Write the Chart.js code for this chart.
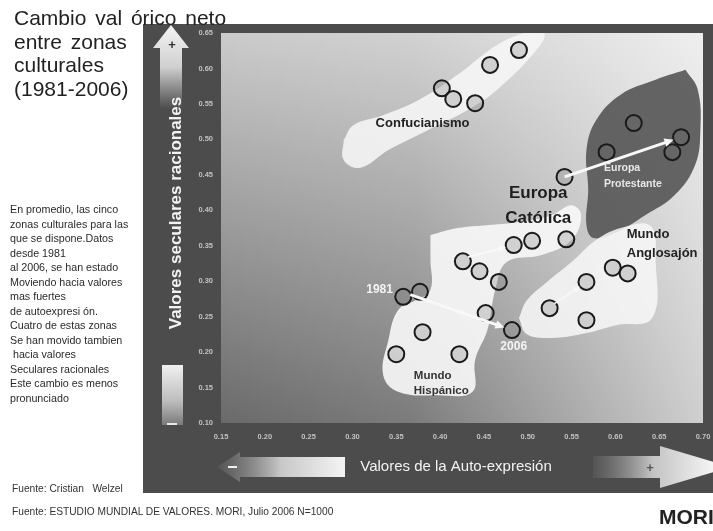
<!DOCTYPE html>
<html lang="es">
<head>
<meta charset="UTF-8">
<title>Cambio valórico neto</title>
<script src="https://cdn.jsdelivr.net/npm/chart.js"></script>
<style>
  body { margin: 0; background: #fff; width: 713px; height: 531px; overflow: hidden; position: relative; font-family: "Liberation Sans", Arial, sans-serif; }
  #chart { position: absolute; left: 0; top: 0; }
  .txt { position: absolute; color: #222; white-space: pre; }
  .title { left: 14px; top: 6px; font-size: 21px; line-height: 23.5px; word-spacing: 3px; }
  .note { left: 10px; top: 202px; font-size: 10.7px; line-height: 14.5px; color: #2a2a2a; }
  .src { left: 12px; font-size: 10.2px; color: #333; }
  .mori { left: 659px; top: 505px; font-size: 21px; font-weight: bold; color: #222; }
</style>
</head>
<body>
<canvas id="chart" width="713" height="531"></canvas>
<div class="txt title">Cambio val órico neto
entre zonas
culturales
(1981-2006)</div>
<div class="txt note">En promedio, las cinco
zonas culturales para las
que se dispone.Datos
desde 1981
al 2006, se han estado
Moviendo hacia valores
mas fuertes
de autoexpresi ón.
Cuatro de estas zonas
Se han movido tambien
 hacia valores
Seculares racionales
Este cambio es menos
pronunciado</div>
<div class="txt src" style="top:483px">Fuente: Cristian   Welzel</div>
<div class="txt src" style="top:506px">Fuente: ESTUDIO MUNDIAL DE VALORES. MORI, Julio 2006 N=1000</div>
<div class="txt mori">MORI</div>
<script>
// ejes
const xTicks = [0.15, 0.20, 0.25, 0.30, 0.35, 0.40, 0.45, 0.50, 0.55, 0.60, 0.65, 0.70];
const yTicks = [0.10, 0.15, 0.20, 0.25, 0.30, 0.35, 0.40, 0.45, 0.50, 0.55, 0.60, 0.65];

// paises por zona cultural (auto-expresion, secular-racional)
const confucianismo = [
  {x: 0.402, y: 0.572}, {x: 0.415, y: 0.557}, {x: 0.440, y: 0.551},
  {x: 0.457, y: 0.605}, {x: 0.490, y: 0.626}
];
const europaProtestante = [
  {x: 0.542, y: 0.447}, {x: 0.590, y: 0.482}, {x: 0.621, y: 0.523},
  {x: 0.675, y: 0.503}, {x: 0.665, y: 0.482}
];
const europaCatolica = [
  {x: 0.426, y: 0.328}, {x: 0.445, y: 0.314}, {x: 0.467, y: 0.299},
  {x: 0.484, y: 0.351}, {x: 0.505, y: 0.357}, {x: 0.544, y: 0.359}
];
const mundoHispanico = [
  {x: 0.358, y: 0.278}, {x: 0.377, y: 0.285}, {x: 0.380, y: 0.228},
  {x: 0.350, y: 0.197}, {x: 0.422, y: 0.197}, {x: 0.452, y: 0.255},
  {x: 0.482, y: 0.231}
];
const mundoAnglosajon = [
  {x: 0.525, y: 0.262}, {x: 0.567, y: 0.299}, {x: 0.567, y: 0.245},
  {x: 0.597, y: 0.319}, {x: 0.614, y: 0.311}
];

// contornos de las zonas
const zonaConfuciana = [
  {x: 0.290, y: 0.499}, {x: 0.301, y: 0.520}, {x: 0.335, y: 0.534}, {x: 0.375, y: 0.555},
  {x: 0.420, y: 0.591}, {x: 0.465, y: 0.633}, {x: 0.497, y: 0.650}, {x: 0.519, y: 0.650},
  {x: 0.510, y: 0.626}, {x: 0.465, y: 0.570}, {x: 0.431, y: 0.541}, {x: 0.386, y: 0.513},
  {x: 0.341, y: 0.485}, {x: 0.309, y: 0.460}, {x: 0.290, y: 0.471}, {x: 0.290, y: 0.499}
];
const zonaProtestante = [
  {x: 0.680, y: 0.598}, {x: 0.694, y: 0.570}, {x: 0.697, y: 0.513}, {x: 0.691, y: 0.464},
  {x: 0.668, y: 0.422}, {x: 0.634, y: 0.393}, {x: 0.601, y: 0.369}, {x: 0.575, y: 0.361},
  {x: 0.567, y: 0.379}, {x: 0.569, y: 0.429}, {x: 0.567, y: 0.485}, {x: 0.578, y: 0.527},
  {x: 0.606, y: 0.563}, {x: 0.646, y: 0.584}, {x: 0.680, y: 0.598}
];
const zonaCatolicaHispana = [
  {x: 0.389, y: 0.365}, {x: 0.420, y: 0.375}, {x: 0.454, y: 0.379}, {x: 0.488, y: 0.383},
  {x: 0.527, y: 0.393}, {x: 0.550, y: 0.407}, {x: 0.561, y: 0.393}, {x: 0.550, y: 0.358},
  {x: 0.516, y: 0.337}, {x: 0.476, y: 0.327}, {x: 0.463, y: 0.288}, {x: 0.454, y: 0.231},
  {x: 0.440, y: 0.189}, {x: 0.437, y: 0.144}, {x: 0.397, y: 0.139}, {x: 0.352, y: 0.144},
  {x: 0.335, y: 0.168}, {x: 0.341, y: 0.217}, {x: 0.352, y: 0.259}, {x: 0.372, y: 0.273},
  {x: 0.389, y: 0.288}, {x: 0.389, y: 0.330}, {x: 0.389, y: 0.365}
];
const zonaAnglosajona = [
  {x: 0.490, y: 0.248}, {x: 0.499, y: 0.273}, {x: 0.522, y: 0.299}, {x: 0.550, y: 0.327},
  {x: 0.578, y: 0.358}, {x: 0.606, y: 0.375}, {x: 0.640, y: 0.378}, {x: 0.646, y: 0.330},
  {x: 0.642, y: 0.248}, {x: 0.601, y: 0.238}, {x: 0.567, y: 0.227}, {x: 0.527, y: 0.220},
  {x: 0.499, y: 0.225}, {x: 0.490, y: 0.248}
];

// flechas de cambio 1981 -> 2006
const flechas = [
  {from: {x: 0.366, y: 0.281}, to: {x: 0.482, y: 0.231}, w: 3},
  {from: {x: 0.542, y: 0.447}, to: {x: 0.675, y: 0.503}, w: 3},
  {from: {x: 0.432, y: 0.334}, to: {x: 0.484, y: 0.351}, w: 2},
  {from: {x: 0.530, y: 0.268}, to: {x: 0.567, y: 0.299}, w: 1.5}
];

const etiquetas = [
  {text: 'Confucianismo', x: 0.380, y: 0.522, font: 'bold 13px "Liberation Sans"', color: '#222', align: 'center'},
  {text: 'Europa', x: 0.512, y: 0.424, font: 'bold 17px "Liberation Sans"', color: '#1e1e1e', align: 'center'},
  {text: 'Católica', x: 0.512, y: 0.389, font: 'bold 17px "Liberation Sans"', color: '#1e1e1e', align: 'center'},
  {text: 'Europa', x: 0.587, y: 0.460, font: 'bold 10.5px "Liberation Sans"', color: '#e8e8e8', align: 'left'},
  {text: 'Protestante', x: 0.587, y: 0.437, font: 'bold 10.5px "Liberation Sans"', color: '#e8e8e8', align: 'left'},
  {text: 'Mundo', x: 0.613, y: 0.366, font: 'bold 13px "Liberation Sans"', color: '#222', align: 'left'},
  {text: 'Anglosajón', x: 0.613, y: 0.339, font: 'bold 13px "Liberation Sans"', color: '#222', align: 'left'},
  {text: '1981', x: 0.331, y: 0.288, font: 'bold 12px "Liberation Sans"', color: '#f4f4f4', align: 'center'},
  {text: '2006', x: 0.484, y: 0.207, font: 'bold 12px "Liberation Sans"', color: '#f4f4f4', align: 'center'},
  {text: 'Mundo', x: 0.370, y: 0.166, font: 'bold 11.5px "Liberation Sans"', color: '#333', align: 'left'},
  {text: 'Hispánico', x: 0.370, y: 0.146, font: 'bold 11.5px "Liberation Sans"', color: '#333', align: 'left'}
];

const fondo = {
  id: 'fondo',
  beforeDraw(chart) {
    const c = chart.ctx, a = chart.chartArea;
    c.save();
    // panel oscuro
    c.fillStyle = '#4c4c4c';
    c.fillRect(a.left - 78, a.top - 9, chart.width - a.left + 78, a.bottom - a.top + 79);
    // area de grafico
    let g = c.createLinearGradient(0, a.top, 0, a.bottom);
    g.addColorStop(0, '#cbcbcb');
    g.addColorStop(1, '#6a6a6a');
    c.fillStyle = g;
    c.fillRect(a.left, a.top, a.right - a.left, a.bottom - a.top);
    g = c.createLinearGradient(a.left, 0, a.right, 0);
    g.addColorStop(0, 'rgba(255,255,255,0)');
    g.addColorStop(0.4, 'rgba(255,255,255,0.12)');
    g.addColorStop(1, 'rgba(255,255,255,0.68)');
    c.fillStyle = g;
    c.fillRect(a.left, a.top, a.right - a.left, a.bottom - a.top);

    // flecha vertical (+)
    const ax = a.left - 50;
    g = c.createLinearGradient(0, a.top - 8, 0, a.top + 76);
    g.addColorStop(0, '#f4f4f4');
    g.addColorStop(0.5, '#d0d0d0');
    g.addColorStop(1, 'rgba(200,200,200,0)');
    c.fillStyle = g;
    c.beginPath();
    c.moveTo(ax, a.top - 8);
    c.lineTo(ax + 18, a.top + 15);
    c.lineTo(ax + 11, a.top + 15);
    c.lineTo(ax + 11, a.top + 76);
    c.lineTo(ax - 11, a.top + 76);
    c.lineTo(ax - 11, a.top + 15);
    c.lineTo(ax - 18, a.top + 15);
    c.closePath();
    c.fill();
    g = c.createLinearGradient(0, a.bottom - 58, 0, a.bottom + 2);
    g.addColorStop(0, '#f0f0f0');
    g.addColorStop(0.6, '#bdbdbd');
    g.addColorStop(1, '#7a7a7a');
    c.fillStyle = g;
    c.fillRect(ax - 9, a.bottom - 58, 21, 60);
    c.fillStyle = '#333';
    c.font = 'bold 13px "Liberation Sans"';
    c.textAlign = 'center';
    c.textBaseline = 'middle';
    c.fillText('+', ax + 1, a.top + 12);
    c.fillStyle = '#e8e8e8';
    c.fillRect(ax - 4, a.bottom, 10, 2);

    // flechas horizontales
    const ym = a.bottom + 44;
    g = c.createLinearGradient(a.left - 4, 0, a.left + 124, 0);
    g.addColorStop(0, 'rgba(90,90,90,0.6)');
    g.addColorStop(0.5, '#c8c8c8');
    g.addColorStop(1, '#f4f4f4');
    c.fillStyle = g;
    c.beginPath();
    c.moveTo(a.left - 4, ym);
    c.lineTo(a.left + 19, ym - 15);
    c.lineTo(a.left + 19, ym - 10);
    c.lineTo(a.left + 124, ym - 10);
    c.lineTo(a.left + 124, ym + 10);
    c.lineTo(a.left + 19, ym + 10);
    c.lineTo(a.left + 19, ym + 15);
    c.closePath();
    c.fill();
    c.fillStyle = '#f0f0f0';
    c.fillRect(a.left + 7, ym - 1, 9, 2);

    g = c.createLinearGradient(a.left + 372, 0, chart.width, 0);
    g.addColorStop(0, 'rgba(90,90,90,0.6)');
    g.addColorStop(0.5, '#c4c4c4');
    g.addColorStop(1, '#f4f4f4');
    c.fillStyle = g;
    c.beginPath();
    c.moveTo(a.left + 372, ym - 11);
    c.lineTo(a.left + 439, ym - 11);
    c.lineTo(a.left + 439, ym - 21);
    c.lineTo(a.left + 510, ym);
    c.lineTo(a.left + 439, ym + 21);
    c.lineTo(a.left + 439, ym + 11);
    c.lineTo(a.left + 372, ym + 11);
    c.closePath();
    c.fill();
    c.fillStyle = '#555';
    c.font = 'bold 13px "Liberation Sans"';
    c.fillText('+', a.left + 429, ym + 1);

    // titulos de ejes
    c.fillStyle = '#f2f2f2';
    c.font = '15px "Liberation Sans"';
    c.fillText('Valores de la Auto-expresión', a.left + 235, ym);
    c.translate(a.left - 45, a.top + 180);
    c.rotate(-Math.PI / 2);
    c.font = 'bold 17px "Liberation Sans"';
    c.fillText('Valores seculares racionales', 0, 0);
    c.restore();
  }
};

const anotaciones = {
  id: 'anotaciones',
  afterDatasetsDraw(chart) {
    const c = chart.ctx, sx = chart.scales.x, sy = chart.scales.y;
    c.save();
    c.strokeStyle = '#f8f8f8';
    c.fillStyle = '#f8f8f8';
    flechas.forEach(f => {
      const x0 = sx.getPixelForValue(f.from.x), y0 = sy.getPixelForValue(f.from.y);
      let x1 = sx.getPixelForValue(f.to.x), y1 = sy.getPixelForValue(f.to.y);
      const ang = Math.atan2(y1 - y0, x1 - x0);
      x1 -= Math.cos(ang) * 8;
      y1 -= Math.sin(ang) * 8;
      const h = 4 + f.w * 2;
      c.lineWidth = f.w;
      c.beginPath();
      c.moveTo(x0, y0);
      c.lineTo(x1 - Math.cos(ang) * h * 0.8, y1 - Math.sin(ang) * h * 0.8);
      c.stroke();
      c.beginPath();
      c.moveTo(x1, y1);
      c.lineTo(x1 - h * Math.cos(ang - 0.45), y1 - h * Math.sin(ang - 0.45));
      c.lineTo(x1 - h * Math.cos(ang + 0.45), y1 - h * Math.sin(ang + 0.45));
      c.closePath();
      c.fill();
    });
    c.textBaseline = 'middle';
    etiquetas.forEach(e => {
      c.font = e.font;
      c.fillStyle = e.color;
      c.textAlign = e.align;
      c.fillText(e.text, sx.getPixelForValue(e.x), sy.getPixelForValue(e.y));
    });
    c.restore();
  }
};

const puntos = (data) => ({
  type: 'scatter', data: data, order: 0,
  pointRadius: 8, borderWidth: 2, borderColor: '#1a1a1a',
  backgroundColor: 'rgba(110,110,110,0.25)'
});
const zona = (data, color) => ({
  type: 'line', data: data, order: 5,
  fill: 'shape', backgroundColor: color, borderColor: 'rgba(0,0,0,0)', borderWidth: 0,
  pointRadius: 0, tension: 0.4
});

const tickFont = {family: '"Liberation Sans"', size: 7.5, weight: 'bold'};

new Chart(document.getElementById('chart'), {
  type: 'scatter',
  data: {
    datasets: [
      zona(zonaConfuciana, 'rgba(248,248,248,0.85)'),
      zona(zonaCatolicaHispana, 'rgba(248,248,248,0.9)'),
      zona(zonaAnglosajona, 'rgba(248,248,248,0.85)'),
      zona(zonaProtestante, 'rgba(88,88,88,0.92)'),
      puntos(confucianismo),
      puntos(europaProtestante),
      puntos(europaCatolica),
      puntos(mundoHispanico),
      puntos(mundoAnglosajon)
    ]
  },
  options: {
    responsive: false,
    animation: false,
    layout: {padding: {left: 150, right: 5, top: 33, bottom: 38}},
    plugins: {legend: {display: false}, tooltip: {enabled: false}},
    scales: {
      x: {
        type: 'linear', min: xTicks[0], max: xTicks[xTicks.length - 1],
        afterBuildTicks: s => { s.ticks = xTicks.map(v => ({value: v})); },
        ticks: {callback: v => v.toFixed(2), color: '#c2c2c2', font: tickFont, padding: 9, maxRotation: 0, autoSkip: false},
        grid: {display: false, drawTicks: false},
        border: {display: false},
        afterFit: s => { s.height = 70; s.paddingLeft = 0; s.paddingRight = 0; }
      },
      y: {
        type: 'linear', min: yTicks[0], max: yTicks[yTicks.length - 1],
        afterBuildTicks: s => { s.ticks = yTicks.map(v => ({value: v})); },
        ticks: {callback: v => v.toFixed(2), color: '#c2c2c2', font: tickFont, padding: 8, autoSkip: false},
        grid: {display: false, drawTicks: false},
        border: {display: false},
        afterFit: s => { s.width = 71; s.paddingTop = 0; s.paddingBottom = 0; }
      }
    }
  },
  plugins: [fondo, anotaciones]
});
</script>
</body>
</html>
